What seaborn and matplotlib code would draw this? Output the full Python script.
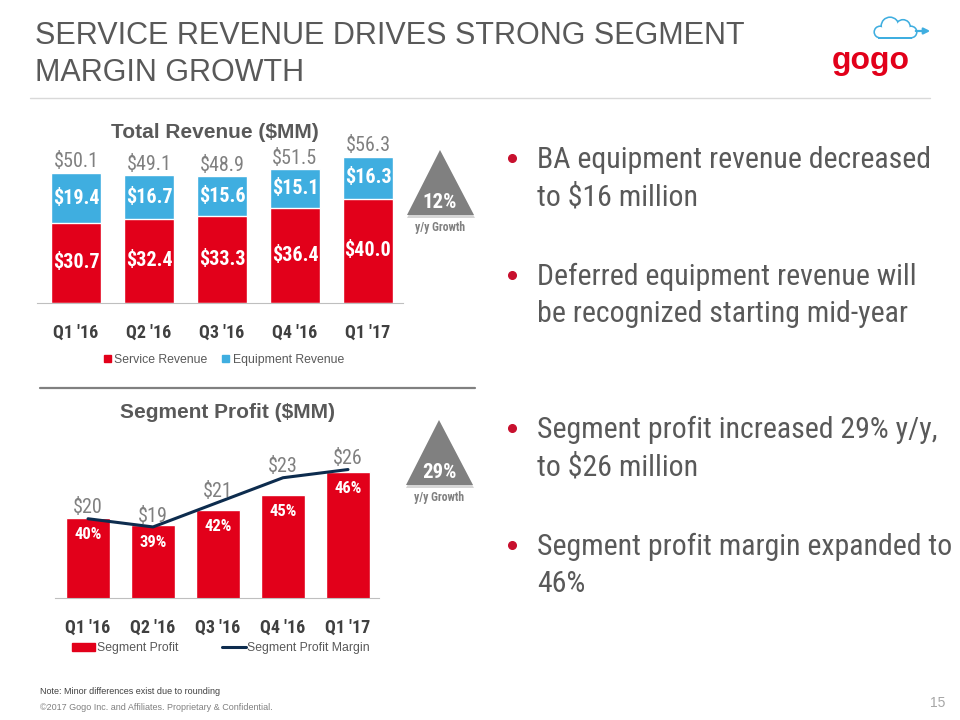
import numpy as np
import matplotlib.pyplot as plt
import matplotlib.font_manager as fm
from matplotlib.patches import Polygon, Patch, Circle, Rectangle
from matplotlib.lines import Line2D
import seaborn as sns

# ---------------------------
# Data
# ---------------------------
QUARTERS = ["Q1 '16", "Q2 '16", "Q3 '16", "Q4 '16", "Q1 '17"]
SERVICE_REV = [30.7, 32.4, 33.3, 36.4, 40.0]
EQUIP_REV = [19.4, 16.7, 15.6, 15.1, 16.3]
TOTAL_REV = [50.1, 49.1, 48.9, 51.5, 56.3]
SEG_PROFIT = [20, 19, 21, 23, 26]
SEG_MARGIN = [40, 39, 42, 45, 46]
REV_GROWTH = "12%"
PROFIT_GROWTH = "29%"

BULLETS = [
    ["BA equipment revenue decreased", "to $16 million"],
    ["Deferred equipment revenue will", "be recognized starting mid-year"],
    ["Segment profit increased 29% y/y,", "to $26 million"],
    ["Segment profit margin expanded to", "46%"],
]

# ---------------------------
# Style
# ---------------------------
RED = "#E2001A"
BLUE = "#3FAEE0"
NAVY = "#0D2C4E"
DARK = "#595959"
GRAY = "#808080"

sns.set_style("white")

# pick an Arial Narrow look-alike that has a bold face
installed = {}
for f in fm.fontManager.ttflist:
    installed.setdefault(f.name, set()).add(f.weight)
narrow_name = None
for cand in ["Liberation Sans Narrow", "Arial Narrow", "Archivo Narrow", "Roboto Condensed",
             "PT Sans Narrow", "Fira Sans Condensed", "IBM Plex Sans Condensed",
             "Pragati Narrow", "Encode Sans Condensed"]:
    if cand in installed and any(int(w) >= 600 for w in installed[cand] if str(w).isdigit()):
        narrow_name = cand
        break
REG = ["Liberation Sans", "DejaVu Sans"]
NARROW = [narrow_name] + REG if narrow_name else REG
plt.rcParams["font.family"] = REG

W, H = 960, 720
fig = plt.figure(figsize=(W / 100, H / 100), dpi=100)

# overlay in pixel coordinates for slide decorations
bg = fig.add_axes([0, 0, 1, 1])
bg.set_xlim(0, W)
bg.set_ylim(H, 0)
bg.axis("off")

# header
bg.text(35, 21, "SERVICE REVENUE DRIVES STRONG SEGMENT\nMARGIN GROWTH", fontsize=22,
        color=DARK, va="top", ha="left", linespacing=1.3, family=REG)
bg.plot([30, 930], [98, 98], color="#D9D9D9", lw=1)

# logo
bg.text(871, 69, "gogo", fontsize=23, fontweight="heavy", color=RED, ha="center",
        va="baseline", family=REG)
cloud = [(880, 32, 5), (890, 26, 8), (903, 27, 6.5), (911, 32, 5)]
for x, y, r in cloud:
    bg.add_patch(Circle((x, y), r + 1.6, color=BLUE, lw=0))
bg.add_patch(Rectangle((878.4, 30), 34, 8.6, color=BLUE, lw=0))
for x, y, r in cloud:
    bg.add_patch(Circle((x, y), r, color="white", lw=0))
bg.add_patch(Rectangle((880, 30), 31, 7, color="white", lw=0))
bg.annotate("", xy=(933, 31), xytext=(913, 31),
            arrowprops=dict(arrowstyle="-|>", color=BLUE, lw=1.6, mutation_scale=9))

# chart titles and separator
bg.text(215, 132, "Total Revenue ($MM)", fontsize=15, fontweight="bold", color=DARK,
        ha="center", va="center", family=REG)
bg.text(227, 413, "Segment Profit ($MM)", fontsize=15, fontweight="bold", color=DARK,
        ha="center", va="center", family=REG)
bg.plot([40, 475], [388, 388], color=GRAY, lw=1.6)

# growth triangles
for (ax_, ay), txt in [((440, 150), REV_GROWTH), ((439, 420), PROFIT_GROWTH)]:
    bg.add_patch(Polygon([(ax_ + 1, ay + 3), (ax_ - 33, ay + 68), (ax_ + 35, ay + 68)],
                         color="#D6D6D6", lw=0))
    bg.add_patch(Polygon([(ax_, ay), (ax_ - 33, ay + 65), (ax_ + 34, ay + 65)],
                         color=GRAY, lw=0))
    bg.text(ax_, ay + 52, txt, fontsize=15, fontweight="bold", color="white",
            ha="center", va="center", family=NARROW)
    bg.text(ax_, ay + 77, "y/y Growth", fontsize=8.5, fontweight="bold", color=GRAY,
            ha="center", va="center", family=NARROW)

# bullets
bullet_y = [168, 285, 438, 555]
for y0, lines in zip(bullet_y, BULLETS):
    bg.plot(512, y0 - 10, "o", ms=5.5, color="#C8102E")
    for k, line in enumerate(lines):
        bg.text(537, y0 + k * 37.5, line, fontsize=21.5, color=DARK, ha="left",
                va="baseline", family=NARROW)

# footer
bg.text(40, 692, "Note: Minor differences exist due to rounding", fontsize=6.5,
        color="#404040", va="center", family=REG)
bg.text(40, 707, "\u00a92017 Gogo Inc. and Affiliates. Proprietary & Confidential.",
        fontsize=6.5, color=GRAY, va="center", family=REG)
bg.text(945, 703, "15", fontsize=10, color="#A6A6A6", ha="right", va="center", family=REG)


def style_axis(ax):
    sns.despine(ax=ax, left=True)
    ax.spines["bottom"].set_color("#BFBFBF")
    ax.set_yticks([])
    ax.set_xlabel("")
    ax.set_ylabel("")
    ax.patch.set_alpha(0)
    ax.tick_params(axis="x", length=0, pad=15)
    for lbl in ax.get_xticklabels():
        lbl.set_fontfamily(NARROW)
        lbl.set_fontweight("bold")
        lbl.set_fontsize(13)
        lbl.set_color("#404040")


# ---------------------------
# Total revenue (stacked)
# ---------------------------
ax1 = fig.add_axes([37 / W, 1 - 302.7 / H, 366 / W, 182.7 / H])
sns.barplot(x=QUARTERS, y=TOTAL_REV, color=BLUE, saturation=1, width=0.685, ax=ax1)
sns.barplot(x=QUARTERS, y=SERVICE_REV, color=RED, saturation=1, width=0.685, ax=ax1)
ax1.set_xlim(-0.534, 4.48)
ax1.set_ylim(0, 70.5)
style_axis(ax1)

for i, (s, e, t) in enumerate(zip(SERVICE_REV, EQUIP_REV, TOTAL_REV)):
    ax1.text(i, s / 2, f"${s:.1f}", ha="center", va="center", color="white",
             fontsize=14.5, fontweight="bold", family=NARROW)
    ax1.text(i, s + e / 2, f"${e:.1f}", ha="center", va="center", color="white",
             fontsize=14.5, fontweight="bold", family=NARROW)
    ax1.annotate(f"${t:.1f}", (i, t), xytext=(0, 1), textcoords="offset points",
                 ha="center", va="bottom", color=GRAY, fontsize=14.5, family=NARROW)

fig.legend(handles=[Patch(color=RED, label="Service Revenue"),
                    Patch(color=BLUE, label="Equipment Revenue")],
           loc="center", bbox_to_anchor=(224 / W, 1 - 360 / H), ncol=2, frameon=False,
           prop={"family": REG, "size": 8.8}, labelcolor=DARK, handlelength=0.55,
           handleheight=0.55, handletextpad=0.3, columnspacing=1.2)

# ---------------------------
# Segment profit + margin
# ---------------------------
ax2 = fig.add_axes([55 / W, 1 - 598.3 / H, 324 / W, 178.3 / H])
sns.barplot(x=QUARTERS, y=SEG_PROFIT, color=RED, saturation=1, width=0.677, ax=ax2)
ax2.set_ylim(9.5, 32.75)
style_axis(ax2)

for i, (v, m) in enumerate(zip(SEG_PROFIT, SEG_MARGIN)):
    ax2.annotate(f"{m}%", (i, v), xytext=(0, -12), textcoords="offset points",
                 ha="center", va="center", color="white", fontsize=12,
                 fontweight="bold", family=NARROW)

ax3 = ax2.twinx()
sns.lineplot(x=np.arange(len(QUARTERS)), y=SEG_MARGIN, color=NAVY, lw=2.2, ax=ax3)
ax3.set_ylim(30.3, 52.04)
ax3.set_axis_off()
ax2.set_xlim(-0.508, 4.477)

# profit labels sit just above the margin line
for i, (v, m) in enumerate(zip(SEG_PROFIT, SEG_MARGIN)):
    ax3.annotate(f"${v}", (i, m), xytext=(0, 1), textcoords="offset points",
                 ha="center", va="bottom", color=GRAY, fontsize=14.5, family=NARROW)

fig.legend(handles=[Patch(color=RED, label="Segment Profit"),
                    Line2D([], [], color=NAVY, lw=2.2, label="Segment Profit Margin")],
           loc="center", bbox_to_anchor=(221 / W, 1 - 648 / H), ncol=2, frameon=False,
           prop={"family": REG, "size": 8.8}, labelcolor=DARK, handlelength=1.9,
           handleheight=0.6, handletextpad=0.15, columnspacing=3.6)

fig.savefig("out.png", dpi=100)
